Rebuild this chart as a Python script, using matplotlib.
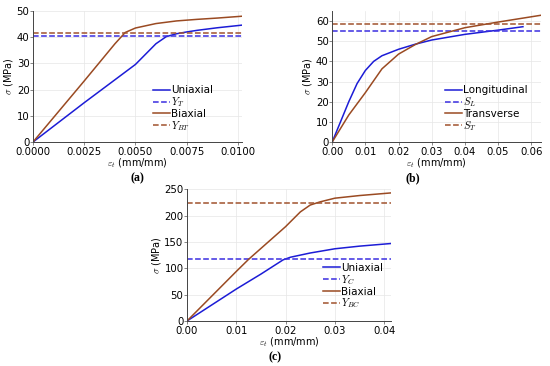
import numpy as np
import matplotlib.pyplot as plt

# (a) tension
a_uni_x = [0, 0.0025, 0.005, 0.006, 0.0065, 0.007, 0.0075, 0.008, 0.009, 0.0102]
a_uni_y = [0, 15.0, 29.6, 37.5, 40.2, 41.3, 42.0, 42.6, 43.6, 44.6]
a_bi_x = [0, 0.0025, 0.004, 0.0045, 0.005, 0.006, 0.007, 0.008, 0.009, 0.0102]
a_bi_y = [0, 23.3, 37.5, 41.8, 43.5, 45.2, 46.2, 46.8, 47.3, 48.0]
Y_T = 40.6
Y_BT = 41.6

# (b) shear
b_lon_x = [0, 0.005, 0.0075, 0.01, 0.0125, 0.015, 0.02, 0.025, 0.03, 0.04, 0.05, 0.0575]
b_lon_y = [0, 20.0, 29.0, 35.5, 40.0, 42.8, 46.0, 48.5, 50.6, 53.4, 55.5, 57.2]
b_tra_x = [0, 0.005, 0.01, 0.015, 0.02, 0.025, 0.03, 0.04, 0.05, 0.063]
b_tra_y = [0, 13.4, 24.5, 36.3, 43.6, 48.3, 52.3, 56.7, 59.5, 62.9]
S_L = 55.0
S_T = 58.5

# (c) compression
c_uni_x = [0, 0.01, 0.015, 0.0195, 0.021, 0.025, 0.03, 0.035, 0.0414]
c_uni_y = [0, 60.6, 89.0, 116.0, 121.0, 129.0, 137.0, 142.0, 147.0]
c_bi_x = [0, 0.01, 0.0125, 0.02, 0.023, 0.025, 0.027, 0.03, 0.035, 0.0414]
c_bi_y = [0, 94.0, 117.0, 179.0, 207.0, 220.0, 226.0, 233.0, 238.0, 243.0]
Y_C = 117.0
Y_BC = 223.0

blue = '#1c1cd6'
blue_d = '#3a2ee0'
brown = '#9a4a22'
brown_d = '#a0522d'

plt.rcParams['font.family'] = 'DejaVu Sans'
plt.rcParams['mathtext.fontset'] = 'cm'

fig = plt.figure(figsize=(5.5, 3.66), dpi=100)


def style(ax, xlim, ylim, xticks, yticks, xfmt):
    ax.set_xlim(*xlim)
    ax.set_ylim(*ylim)
    ax.set_xticks(xticks)
    ax.set_xticklabels([xfmt % t for t in xticks])
    ax.set_yticks(yticks)
    ax.tick_params(labelsize=7.3, length=2, width=0.5, color='#555555', pad=0.5)
    ax.tick_params(axis='x', pad=1.5)
    for s in ['top', 'right']:
        ax.spines[s].set_visible(False)
    for s in ['left', 'bottom']:
        ax.spines[s].set_color('#444444')
        ax.spines[s].set_linewidth(0.7)
    ax.grid(True, color='#e6e6e6', linewidth=0.5)
    ax.set_axisbelow(True)
    ax.set_ylabel(r'$\sigma$ (MPa)', fontsize=7, labelpad=1)
    ax.set_xlabel(r'$\varepsilon_t$ (mm/mm)', fontsize=7, labelpad=0)


def legend(ax, anchor):
    ax.legend(loc='lower right', bbox_to_anchor=anchor, frameon=False,
              fontsize=7.5, handlelength=1.6, handletextpad=0.1,
              labelspacing=0.0, borderaxespad=0, borderpad=0)


# panel (a)
ax1 = fig.add_axes([0.06, 0.612, 0.38, 0.358])
ax1.plot(a_uni_x, a_uni_y, color=blue, lw=1.1, label='Uniaxial')
ax1.axhline(Y_T, color=blue_d, lw=1.1, ls='--', label=r'$Y_T$')
ax1.plot(a_bi_x, a_bi_y, color=brown, lw=1.1, label='Biaxial')
ax1.axhline(Y_BT, color=brown_d, lw=1.1, ls='--', label=r'$Y_{BT}$')
style(ax1, (0, 0.0102), (0, 50), [0, 0.0025, 0.005, 0.0075, 0.01],
      [0, 10, 20, 30, 40, 50], '%.4f')
legend(ax1, (0.86, 0.07))

# panel (b)
ax2 = fig.add_axes([0.604, 0.612, 0.38, 0.358])
ax2.plot(b_lon_x, b_lon_y, color=blue, lw=1.1, label='Longitudinal')
ax2.axhline(S_L, color=blue_d, lw=1.1, ls='--', label=r'$S_L$')
ax2.plot(b_tra_x, b_tra_y, color=brown, lw=1.1, label='Transverse')
ax2.axhline(S_T, color=brown_d, lw=1.1, ls='--', label=r'$S_T$')
style(ax2, (0, 0.063), (0, 65), [0, 0.01, 0.02, 0.03, 0.04, 0.05, 0.06],
      [0, 10, 20, 30, 40, 50, 60], '%.2f')
legend(ax2, (0.935, 0.07))

# panel (c)
ax3 = fig.add_axes([0.34, 0.123, 0.371, 0.36])
ax3.plot(c_uni_x, c_uni_y, color=blue, lw=1.1, label='Uniaxial')
ax3.axhline(Y_C, color=blue_d, lw=1.1, ls='--', label=r'$Y_C$')
ax3.plot(c_bi_x, c_bi_y, color=brown, lw=1.1, label='Biaxial')
ax3.axhline(Y_BC, color=brown_d, lw=1.1, ls='--', label=r'$Y_{BC}$')
style(ax3, (0, 0.0414), (0, 250), [0, 0.01, 0.02, 0.03, 0.04],
      [0, 50, 100, 150, 200, 250], '%.2f')
legend(ax3, (0.96, 0.08))

fig.text(0.249, 0.513, '(a)', fontsize=8.5, family='Liberation Serif', weight='bold', ha='center', va='center')
fig.text(0.751, 0.513, '(b)', fontsize=8.5, family='Liberation Serif', weight='bold', ha='center', va='center')
fig.text(0.5, 0.025, '(c)', fontsize=8.5, family='Liberation Serif', weight='bold', ha='center', va='center')

fig.savefig('out.png', dpi=100)
